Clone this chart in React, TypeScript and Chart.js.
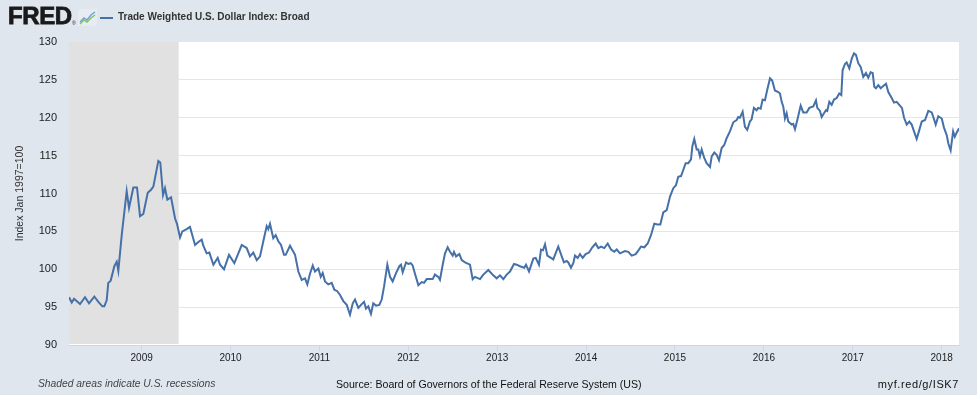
import React, { useEffect, useRef } from 'react';
import { Chart, registerables } from 'chart.js';

Chart.register(...registerables);

// Dates as decimal years (index Jan 1997 = 100)
const dates: number[] = [
  2008.183, 2008.214, 2008.240, 2008.307, 2008.363, 2008.408, 2008.468, 2008.513, 2008.558, 2008.580,
  2008.607, 2008.625, 2008.652, 2008.693, 2008.720, 2008.738, 2008.776, 2008.832, 2008.858, 2008.907,
  2008.948, 2008.982, 2009.019, 2009.069, 2009.106, 2009.132, 2009.188, 2009.210, 2009.241, 2009.263,
  2009.289, 2009.331, 2009.376, 2009.398, 2009.432, 2009.458, 2009.507, 2009.544, 2009.575, 2009.601,
  2009.638, 2009.676, 2009.694, 2009.732, 2009.762, 2009.807, 2009.856, 2009.882, 2009.927, 2009.983,
  2010.043, 2010.088, 2010.126, 2010.182, 2010.219, 2010.256, 2010.295, 2010.332, 2010.369, 2010.407,
  2010.425, 2010.444, 2010.481, 2010.508, 2010.538, 2010.568, 2010.602, 2010.621, 2010.669, 2010.726,
  2010.763, 2010.801, 2010.838, 2010.864, 2010.894, 2010.925, 2010.950, 2010.988, 2011.015, 2011.037,
  2011.063, 2011.100, 2011.138, 2011.168, 2011.201, 2011.232, 2011.269, 2011.307, 2011.344, 2011.375,
  2011.400, 2011.438, 2011.476, 2011.502, 2011.524, 2011.550, 2011.580, 2011.606, 2011.637, 2011.674,
  2011.701, 2011.727, 2011.764, 2011.794, 2011.824, 2011.862, 2011.899, 2011.918, 2011.937, 2011.974,
  2012.000, 2012.027, 2012.049, 2012.075, 2012.113, 2012.151, 2012.177, 2012.207, 2012.244, 2012.274,
  2012.300, 2012.337, 2012.356, 2012.387, 2012.413, 2012.443, 2012.469, 2012.499, 2012.514, 2012.537,
  2012.574, 2012.601, 2012.638, 2012.694, 2012.724, 2012.750, 2012.807, 2012.844, 2012.900, 2012.956,
  2012.994, 2013.032, 2013.069, 2013.107, 2013.144, 2013.189, 2013.219, 2013.256, 2013.305, 2013.324,
  2013.358, 2013.406, 2013.433, 2013.470, 2013.493, 2013.515, 2013.538, 2013.564, 2013.605, 2013.631,
  2013.650, 2013.687, 2013.726, 2013.751, 2013.782, 2013.800, 2013.830, 2013.856, 2013.875, 2013.906,
  2013.931, 2013.962, 2013.995, 2014.033, 2014.070, 2014.108, 2014.137, 2014.168, 2014.205, 2014.243,
  2014.280, 2014.317, 2014.344, 2014.381, 2014.437, 2014.475, 2014.513, 2014.558, 2014.595, 2014.618,
  2014.655, 2014.693, 2014.730, 2014.767, 2014.805, 2014.835, 2014.868, 2014.907, 2014.944, 2014.981,
  2015.011, 2015.037, 2015.068, 2015.093, 2015.120, 2015.150, 2015.180, 2015.195, 2015.217, 2015.244,
  2015.262, 2015.281, 2015.300, 2015.329, 2015.356, 2015.394, 2015.413, 2015.442, 2015.469, 2015.495,
  2015.525, 2015.554, 2015.581, 2015.618, 2015.656, 2015.694, 2015.712, 2015.731, 2015.761, 2015.787,
  2015.813, 2015.843, 2015.862, 2015.888, 2015.918, 2015.936, 2015.964, 2015.986, 2016.012, 2016.038,
  2016.069, 2016.094, 2016.124, 2016.162, 2016.181, 2016.200, 2016.218, 2016.237, 2016.256, 2016.274,
  2016.312, 2016.330, 2016.350, 2016.376, 2016.414, 2016.443, 2016.481, 2016.511, 2016.556, 2016.586,
  2016.601, 2016.631, 2016.650, 2016.676, 2016.699, 2016.713, 2016.736, 2016.763, 2016.789, 2016.819,
  2016.848, 2016.871, 2016.886, 2016.912, 2016.931, 2016.961, 2016.988, 2017.014, 2017.036, 2017.062,
  2017.089, 2017.118, 2017.148, 2017.174, 2017.201, 2017.224, 2017.242, 2017.261, 2017.287, 2017.314,
  2017.343, 2017.374, 2017.400, 2017.438, 2017.464, 2017.494, 2017.523, 2017.553, 2017.577, 2017.607,
  2017.636, 2017.663, 2017.689, 2017.719, 2017.749, 2017.776, 2017.813, 2017.850, 2017.888, 2017.906,
  2017.933, 2017.962, 2018.001, 2018.026, 2018.057, 2018.075, 2018.101, 2018.129, 2018.148, 2018.167,
  2018.195,
];

const values: number[] = [
  96.3, 95.6, 96.1, 95.4, 96.3, 95.5, 96.4, 95.7, 95.1, 95.1,
  95.9, 98.2, 98.5, 100.4, 101.0, 99.8, 104.5, 110.3, 108.1, 110.8,
  110.8, 107.0, 107.3, 110.1, 110.5, 110.9, 114.3, 114.1, 109.8, 110.7,
  109.2, 109.5, 106.7, 106.0, 104.2, 105.0, 105.3, 105.6, 104.3, 103.2,
  103.6, 103.9, 103.1, 102.1, 102.2, 100.6, 101.5, 100.6, 100.0, 101.9,
  100.8, 102.1, 103.2, 102.8, 101.7, 102.2, 101.2, 101.7, 103.7, 105.7,
  105.3, 106.0, 104.1, 104.5, 103.7, 103.2, 101.9, 101.9, 103.1, 101.9,
  99.7, 98.6, 98.8, 98.0, 99.4, 100.5, 99.7, 100.1, 99.0, 99.5,
  98.4, 98.0, 98.2, 97.3, 97.1, 96.6, 95.8, 95.3, 94.0, 95.5,
  96.0, 94.9, 95.4, 95.7, 94.8, 95.1, 94.1, 95.5, 95.2, 95.3,
  96.0, 97.7, 100.6, 99.0, 98.4, 99.5, 100.4, 100.6, 99.6, 100.9,
  100.7, 100.8, 100.5, 99.4, 97.9, 98.3, 98.2, 98.7, 98.7, 98.7,
  99.3, 99.0, 98.6, 100.6, 102.1, 102.9, 102.3, 101.8, 102.3, 101.7,
  102.0, 101.2, 100.9, 100.6, 98.7, 99.0, 98.7, 99.3, 99.9, 99.2,
  98.8, 99.2, 98.7, 99.3, 99.7, 100.7, 100.6, 100.4, 100.2, 100.6,
  99.7, 101.4, 101.5, 100.6, 102.6, 102.5, 103.3, 101.8, 101.5, 101.3,
  101.9, 103.0, 101.7, 100.9, 101.1, 100.9, 100.2, 100.8, 101.8, 101.5,
  102.0, 101.5, 102.0, 102.2, 102.9, 103.4, 102.8, 103.0, 102.8, 103.4,
  102.6, 102.3, 102.6, 102.1, 102.4, 102.3, 101.8, 102.0, 102.6, 103.0,
  102.9, 103.4, 104.5, 106.0, 105.9, 105.9, 107.5, 107.8, 109.6, 110.7,
  111.1, 112.2, 112.3, 113.1, 114.0, 114.0, 114.5, 116.2, 117.2, 115.8,
  115.8, 114.9, 115.8, 114.7, 114.0, 113.5, 114.9, 115.4, 115.1, 114.4,
  116.0, 116.4, 117.3, 118.2, 119.4, 119.7, 120.1, 120.0, 120.8, 118.8,
  118.4, 119.5, 119.8, 121.3, 121.0, 121.3, 121.2, 122.4, 122.3, 123.7,
  125.2, 124.9, 123.6, 123.4, 123.2, 122.1, 121.5, 119.9, 120.6, 119.5,
  119.1, 119.2, 118.5, 119.7, 121.6, 120.7, 120.7, 121.3, 121.5, 122.3,
  121.3, 120.9, 120.1, 120.6, 121.0, 120.9, 122.1, 121.7, 122.4, 122.6,
  123.2, 123.0, 126.3, 127.1, 127.3, 126.5, 127.8, 128.5, 128.3, 127.2,
  126.7, 125.4, 125.9, 125.3, 126.0, 125.9, 124.1, 123.9, 124.3, 123.9,
  124.2, 124.5, 123.4, 122.6, 122.0, 122.1, 121.7, 121.3, 120.0, 119.1,
  119.5, 119.1, 118.2, 117.2, 118.4, 119.5, 119.7, 120.9, 120.7, 120.1,
  119.1, 120.2, 119.9, 118.7, 117.7, 116.6, 115.7, 118.2, 117.5, 118.0,
  118.6,
];

const yearTicks: number[] = [2009, 2010, 2011, 2012, 2013, 2014, 2015, 2016, 2017, 2018];
const yMin = 90;
const yMax = 130;
const yStep = 5;
const xMin = 2008.183;
const xMax = 2018.195;
const recessionStart = 2008.183;
const recessionEnd = 2009.417;

const seriesTitle = 'Trade Weighted U.S. Dollar Index: Broad';
const yAxisTitle = 'Index Jan 1997=100';
const noteText = 'Shaded areas indicate U.S. recessions';
const sourceText = 'Source: Board of Governors of the Federal Reserve System (US)';
const linkText = 'myf.red/g/ISK7';

const FONT = '"Liberation Sans", Arial, sans-serif';
const LINE_COLOR = '#4570a8';
const BG = '#dfe6ee';

const plotBackground = {
  id: 'plotBackground',
  beforeDraw(chart: any) {
    const { ctx, chartArea } = chart;
    ctx.save();
    ctx.fillStyle = '#ffffff';
    ctx.fillRect(chartArea.left, chartArea.top, chartArea.right - chartArea.left, chartArea.bottom - chartArea.top);
    ctx.restore();
  },
};

const recessionBands = {
  id: 'recessionBands',
  beforeDatasetsDraw(chart: any) {
    const { ctx, chartArea, scales } = chart;
    const x0 = Math.max(scales.x.getPixelForValue(recessionStart), chartArea.left);
    const x1 = scales.x.getPixelForValue(recessionEnd);
    ctx.save();
    ctx.fillStyle = '#e1e1e1';
    ctx.fillRect(x0, chartArea.top, x1 - x0, chartArea.bottom - chartArea.top - 1);
    ctx.restore();
  },
};

function FredIcon() {
  return (
    <svg width="19" height="17" viewBox="0 0 19 17" style={{ position: 'absolute', left: 78, top: 9 }}>
      <rect x="0" y="0" width="19" height="17" rx="2" fill="#e6ecf2" />
      <polyline points="2,13 6,9 9,11 13,6 17,3" fill="none" stroke="#6f9fd4" strokeWidth="1.4" />
      <polyline points="2,15 6,11 9,13 13,9 17,6" fill="none" stroke="#86c060" strokeWidth="1.4" />
    </svg>
  );
}

export default function App() {
  const canvasRef = useRef<HTMLCanvasElement | null>(null);

  useEffect(() => {
    const canvas = canvasRef.current;
    if (!canvas) return;
    const points = dates.map((d, i) => ({ x: d, y: values[i] }));
    const chart = new Chart(canvas, {
      type: 'line',
      data: {
        datasets: [
          {
            label: seriesTitle,
            data: points,
            borderColor: LINE_COLOR,
            borderWidth: 2,
            pointRadius: 0,
            tension: 0,
            fill: false,
          },
        ],
      },
      options: {
        responsive: false,
        animation: false,
        layout: { padding: { left: 0, top: 42, right: 18, bottom: 25 } },
        plugins: {
          legend: { display: false },
          tooltip: { enabled: false },
          title: { display: false },
        },
        scales: {
          x: {
            type: 'linear',
            min: xMin,
            max: xMax,
            afterBuildTicks: (scale: any) => {
              scale.ticks = yearTicks.map((v) => ({ value: v }));
            },
            afterFit: (scale: any) => {
              scale.height = 25;
            },
            ticks: {
              autoSkip: false,
              maxRotation: 0,
              padding: 1,
              color: '#222',
              font: { family: FONT, size: 10 },
              callback: (v: any) => String(v),
            },
            grid: {
              drawOnChartArea: false,
              drawTicks: true,
              tickLength: 6,
              color: '#ccd6eb',
            },
            border: { display: true, color: '#ccd6eb', width: 1 },
          },
          y: {
            type: 'linear',
            min: yMin,
            max: yMax,
            afterFit: (scale: any) => {
              scale.width = 69;
            },
            ticks: {
              stepSize: yStep,
              padding: 12,
              color: '#222',
              font: { family: FONT, size: 11 },
            },
            grid: {
              drawTicks: false,
              color: (ctx: any) => (ctx.tick && (ctx.tick.value === yMax || ctx.tick.value === yMin) ? 'rgba(0,0,0,0)' : '#e6e6e6'),
            },
            border: { display: false },
            title: {
              display: true,
              text: yAxisTitle,
              color: '#333',
              font: { family: FONT, size: 10.5 },
              padding: { top: 14, bottom: 0 },
            },
          },
        },
      },
      plugins: [plotBackground, recessionBands],
    });
    return () => chart.destroy();
  }, []);

  return (
    <div
      style={{
        position: 'absolute',
        left: 0,
        top: 0,
        width: 977,
        height: 395,
        background: BG,
        fontFamily: FONT,
        overflow: 'hidden',
      }}
    >
      <canvas ref={canvasRef} width={977} height={395} style={{ position: 'absolute', left: 0, top: 0 }} />
      <div
        style={{
          position: 'absolute',
          left: 8,
          top: 3,
          fontSize: 24,
          fontWeight: 700,
          color: '#1a1a1a',
          letterSpacing: -0.4,
          WebkitTextStroke: '0.8px #1a1a1a',
          lineHeight: '26px',
        }}
      >
        FRED
      </div>
      <div style={{ position: 'absolute', left: 72, top: 20, fontSize: 5, color: '#1a1a1a' }}>®</div>
      <FredIcon />
      <div style={{ position: 'absolute', left: 100, top: 16.5, width: 13, height: 2, background: LINE_COLOR }} />
      <div
        style={{
          position: 'absolute',
          left: 118,
          top: 11,
          fontSize: 10,
          fontWeight: 700,
          color: '#333',
          lineHeight: '12px',
          whiteSpace: 'nowrap',
        }}
      >
        {seriesTitle}
      </div>
      <div
        style={{
          position: 'absolute',
          left: 38,
          top: 378,
          fontSize: 10.3,
          fontStyle: 'italic',
          color: '#444',
          lineHeight: '12px',
          whiteSpace: 'nowrap',
        }}
      >
        {noteText}
      </div>
      <div
        style={{
          position: 'absolute',
          left: 336,
          top: 378,
          fontSize: 10.6,
          color: '#111',
          lineHeight: '12px',
          whiteSpace: 'nowrap',
        }}
      >
        {sourceText}
      </div>
      <div
        style={{
          position: 'absolute',
          right: 18,
          top: 378,
          fontSize: 11,
          color: '#111',
          letterSpacing: 0.6,
          lineHeight: '12px',
          whiteSpace: 'nowrap',
        }}
      >
        {linkText}
      </div>
    </div>
  );
}
